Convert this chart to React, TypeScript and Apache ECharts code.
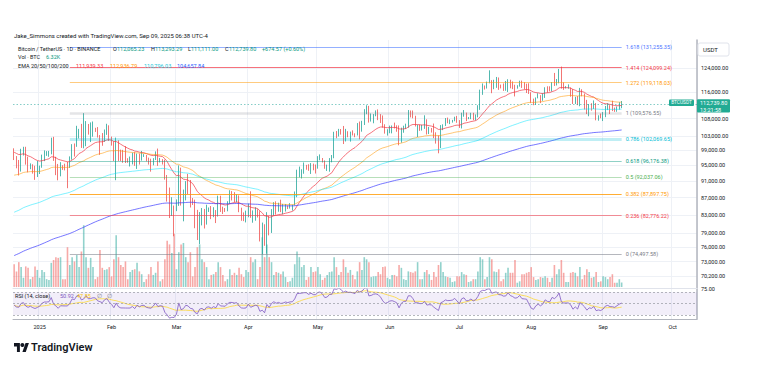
import React, { useEffect, useRef } from "react";
import * as echarts from "echarts";

// ---------- data ----------
const START_UTC = Date.UTC(2024, 11, 21);
const AXIS_DAYS = 295;

const firstOpen = 97805;
const closes = [
  97291, 95186, 94881, 98663, 99430, 95792, 94299, 95300, 93738, 92792, 93576,
  94591, 96984, 98174, 98220, 98364, 102235, 96954, 95060, 92552, 94726, 94599, 94545, 94536, 96560, 100497, 99987, 104077, 104556, 101335, 102260, 106143, 103706, 103960, 104819, 104714, 102682, 102087, 101332, 103733, 104722, 102429,
  100635, 97700, 101406, 97871, 96615, 96593, 96530, 96482, 96500, 97437, 95748, 97885, 96623, 97508, 97580, 96175, 95773, 95539, 96635, 98333, 96125, 96577, 96273, 91552, 88680, 84250, 84708, 84349,
  86064, 94270, 86220, 87281, 90606, 89931, 86801, 86222, 80734, 78595, 82932, 83680, 81067, 83969, 84343, 82580, 84076, 82718, 86855, 84167, 84044, 83832, 86054, 87498, 87391, 86909, 87232, 84424, 82648, 82390, 82550,
  85158, 82516, 83214, 83889, 83538, 78430, 79163, 76322, 82615, 79607, 83424, 85276, 83760, 84592, 83617, 84031, 84948, 84474, 85077, 85179, 87516, 93442, 93691, 93980, 94638, 94630, 93754, 94981, 94284, 94207,
  96492, 96910, 95891, 94315, 94748, 96802, 97032, 103241, 102971, 104696, 104106, 102812, 104169, 103540, 103744, 103489, 103191, 106430, 105606, 106792, 109678, 111673, 107288, 107791, 109035, 109440, 108994, 107802, 105642, 103998, 104638,
  105652, 105882, 105432, 104731, 101575, 104390, 105615, 105793, 110294, 110257, 108686, 105929, 106090, 105472, 105552, 106796, 104601, 104883, 104658, 103297, 102120, 100963, 105333, 106083, 107340, 106947, 107047, 107296, 108356, 107135,
  105681, 108849, 109584, 107984, 108198, 109203, 108262, 108922, 111233, 115987, 117516, 117435, 119086, 119841, 117758, 118630, 119177, 117924, 117840, 117265, 117380, 119954, 118755, 118340, 117614, 117919, 119416, 118062, 117950, 117840, 115764,
  113298, 112547, 114208, 115055, 114130, 114992, 117472, 116674, 116462, 119295, 118686, 120134, 123306, 118295, 117342, 117380, 117405, 116227, 112872, 114271, 112500, 116935, 115438, 113493, 110111, 111763, 111262, 112566, 108377, 108816, 108246,
  109237, 111240, 111705, 110730, 110659, 110187, 111137, 112065.23, 112739.8,
];
const highs = [
  99540, 97448, 96416, 99416, 99960, 99963, 97294, 95525, 95174, 94903, 96150,
  94929, 97839, 98976, 98778, 98836, 102480, 102724, 97258, 95382, 95837, 95050, 95450, 95940, 97371, 100681, 100868, 105865, 104988, 106422, 109588, 107240, 106394, 106850, 107120, 105286, 105500, 103220, 103783, 104800, 106457, 106012,
  102783, 101456, 102500, 101750, 99188, 99120, 100137, 96880, 97323, 98345, 98500, 98119, 98116, 98826, 97972, 97732, 97040, 96753, 96899, 98711, 99475, 96943, 96650, 96503, 92540, 89414, 87078, 85120,
  86558, 95000, 94416, 88912, 91000, 92810, 91283, 86897, 86500, 84123, 83617, 84539, 84336, 85310, 84672, 85000, 84736, 84076, 87453, 87443, 84850, 84539, 86129, 88765, 88543, 88292, 87786, 87515, 84624, 83534, 83943,
  85579, 88500, 83998, 84720, 84266, 83817, 81243, 80867, 83588, 82700, 84300, 85905, 86100, 85785, 86496, 85500, 85470, 85132, 85677, 85320, 88460, 93888, 94696, 94000, 95758, 95127, 95301, 95600, 95461, 95228,
  97437, 97895, 96938, 96305, 95199, 96920, 97732, 104145, 104361, 104984, 104937, 105819, 104976, 104300, 104192, 104550, 103709, 106660, 107108, 107320, 110797, 111980, 111800, 109489, 109313, 110422, 110718, 109300, 108910, 106313, 104886,
  105918, 105970, 106794, 106000, 105969, 105333, 105900, 106488, 110530, 110400, 110392, 108813, 106182, 106208, 106128, 108952, 107771, 105550, 105226, 106524, 104000, 103128, 106074, 106290, 108135, 108272, 107735, 107600, 108531, 108789,
  107540, 109730, 110529, 109767, 108420, 109700, 109700, 109200, 111999, 116868, 118869, 118200, 119488, 123218, 119940, 120063, 120999, 120826, 118499, 118856, 119676, 120247, 120090, 119535, 118451, 118297, 119766, 119800, 119273, 118792, 118922,
  116052, 114036, 114400, 115720, 115127, 115716, 117632, 117950, 117944, 119311, 122335, 120324, 123667, 124474, 119216, 117999, 118575, 117543, 117031, 114615, 114821, 117429, 117000, 115666, 113642, 112371, 112625, 113485, 112655, 108952, 109480,
  109912, 111771, 112625, 112000, 113384, 111300, 111600, 112929, 113293.29,
];
const lows = [
  96400, 94250, 92403, 93404, 97600, 95199, 93217, 94014, 92881, 91317, 92034,
  92788, 94392, 96100, 97514, 97276, 97926, 96181, 92500, 91203, 92206, 93831, 93711, 89256, 94346, 96500, 97335, 99950, 102277, 99651, 99550, 100119, 103339, 101262, 102750, 104106, 102520, 97777, 100233, 101328, 103278, 101560,
  100279, 96150, 91231, 96150, 96155, 95676, 95620, 95688, 94713, 95256, 94876, 94088, 95220, 96252, 97223, 96053, 95205, 93388, 95029, 96415, 94871, 95770, 95227, 91371, 86050, 82256, 82716, 78258,
  83824, 85050, 85117, 81529, 86334, 87836, 84667, 85248, 80000, 77459, 76606, 80620, 79939, 80797, 83639, 82017, 82456, 81134, 82600, 83647, 83175, 83647, 83790, 85518, 86310, 85859, 85837, 83585, 81644, 81565, 81279,
  82432, 82320, 81211, 81659, 82379, 77153, 74508, 76239, 74620, 78456, 78971, 82792, 83034, 83690, 83600, 83111, 83736, 84303, 84418, 83949, 85143, 87076, 91935, 91660, 92855, 93880, 93604, 92800, 93742, 92910,
  94153, 96350, 95753, 94127, 93566, 93377, 95800, 96876, 102316, 102817, 103346, 100719, 101429, 102602, 101383, 103100, 102612, 103105, 102000, 104184, 106100, 109285, 106800, 107104, 106600, 108670, 107516, 106681, 105322, 103621, 103068,
  103735, 103703, 105100, 104160, 100372, 101095, 103871, 104964, 105318, 108331, 108064, 105671, 102664, 104410, 104494, 104980, 103371, 103500, 103929, 102345, 100837, 98200, 99613, 104622, 105820, 106595, 106356, 106800, 107200, 106733,
  105250, 105100, 108530, 107245, 107800, 107800, 107500, 107429, 108347, 110582, 115222, 116900, 117224, 118905, 115736, 117017, 117453, 116812, 117277, 116467, 116515, 116128, 117301, 117031, 114723, 117184, 117840, 117427, 116950, 115800, 115500,
  112722, 112000, 112080, 114116, 112650, 113353, 114259, 115891, 116299, 116300, 118050, 118207, 118920, 117180, 116803, 117253, 117172, 114640, 112380, 112380, 112015, 111684, 114767, 110680, 109329, 108666, 110345, 110862, 107463, 107350, 108076,
  107255, 108393, 110509, 109329, 110207, 109977, 110000, 110621, 111111,
];
// volume, thousands of BTC
const volumesK = [
  32, 22, 35, 28, 13, 29, 27, 11, 14, 29, 24,
  13, 24, 21, 11, 10, 34, 38, 42, 41, 42, 11, 11, 56, 31, 42, 36, 45, 28, 50, 87, 42, 27, 41, 28, 11, 14, 52, 27, 24, 25, 28,
  15, 39, 73, 42, 31, 28, 36, 11, 21, 24, 25, 34, 22, 18, 7, 11, 18, 28, 17, 20, 36, 8, 11, 39, 65, 60, 48, 75,
  25, 49, 60, 62, 42, 35, 49, 15, 28, 56, 60, 39, 35, 28, 11, 17, 18, 21, 35, 28, 17, 8, 11, 25, 17, 20, 17, 27, 18, 14, 24,
  21, 42, 35, 39, 11, 28, 70, 42, 60, 42, 35, 17, 21, 20, 18, 22, 14, 7, 8, 13, 32, 50, 42, 28, 31, 10, 14, 28, 21, 22,
  28, 18, 10, 13, 17, 21, 22, 42, 28, 17, 21, 39, 28, 20, 24, 17, 11, 22, 35, 24, 42, 39, 35, 14, 15, 15, 21, 18, 28, 29, 13,
  11, 17, 17, 15, 31, 27, 11, 10, 22, 21, 20, 22, 35, 11, 11, 21, 24, 18, 10, 21, 14, 31, 35, 21, 15, 14, 13, 7, 8, 15,
  15, 21, 18, 17, 7, 8, 11, 11, 22, 42, 39, 11, 14, 42, 39, 22, 21, 25, 8, 11, 20, 27, 20, 20, 38, 6, 8, 18, 18, 20, 21,
  28, 14, 10, 11, 14, 13, 15, 13, 7, 13, 31, 18, 25, 38, 20, 7, 7, 20, 21, 20, 15, 28, 11, 17, 25, 21, 13, 14, 21, 7, 8,
  15, 14, 11, 14, 18, 6, 6, 11, 6.32,
];

const priceTicks = [124000, 116000, 108000, 103000, 99000, 95000, 91000, 87000, 83000, 79000, 76000, 73000, 70200];
const priceAxisRange = [67932, 133870];

const fibRatios = ["1.618", "1.414", "1.272", "1", "0.786", "0.618", "0.5", "0.382", "0.236", "0"];
const fibPrices = [131255.35, 124099.24, 119118.03, 109576.55, 102069.65, 96176.38, 92037.06, 87897.75, 82776.22, 74497.58];
const fibLineColors = [
  "rgba(41,98,255,0.5)", "rgba(242,54,69,0.7)", "rgba(255,152,0,0.5)", "rgba(120,123,134,0.2)", "rgba(0,188,212,0.25)",
  "rgba(8,153,129,0.45)", "rgba(76,175,80,0.4)", "rgba(255,152,0,0.8)", "rgba(242,54,69,0.55)", "rgba(120,123,134,0.55)",
];
const fibLabelColors = ["#4a74ff", "#f23645", "#ff9800", "#787b86", "#00bcd4", "#089981", "#4caf50", "#ff9800", "#f23645", "#787b86"];
const fibWidths = [1, 1, 1, 2.5, 3, 1, 1, 1.2, 1, 1];
const fibStart = "2025-01-14";
const fibEnd = "2025-09-09";

const emaPeriods = [20, 50, 100, 200];
const emaSeeds = [98600, 92300, 83300, 74000];
const emaColors = ["rgba(242,54,69,0.7)", "rgba(255,152,0,0.55)", "rgba(0,229,255,0.5)", "rgba(61,61,255,0.7)"];
const emaLegendValues = ["111,939.33", "112,936.79", "110,796.03", "104,657.84"];
const emaLegendColors = ["#f23645", "#ff9800", "#26c6da", "#2962ff"];

const rsiSeedGain = 1150;
const rsiSeedLoss = 1250;
const rsiLevels = [70, 50, 30];
const lastPrice = 112739.8;

// ---------- helpers ----------
const FONT = "Roboto";
const DAY = 86400000;
const categories = Array.from({ length: AXIS_DAYS }, (_, i) => new Date(START_UTC + i * DAY).toISOString().slice(0, 10));
const MONTHS = ["Jan", "Feb", "Mar", "Apr", "May", "Jun", "Jul", "Aug", "Sep", "Oct", "Nov", "Dec"];
const isMonthStart = (_i: number, v: string) => v.slice(8, 10) === "01";
const monthLabel = (v: string) => (v.slice(5, 7) === "01" ? v.slice(0, 4) : MONTHS[parseInt(v.slice(5, 7), 10) - 1]);
const fmt2 = (v: number) => v.toLocaleString("en-US", { minimumFractionDigits: 2, maximumFractionDigits: 2 });

const opens = closes.map((_, i) => (i === 0 ? firstOpen : closes[i - 1]));
const candleData = closes.map((c, i) => {
  const o = opens[i];
  const h = Math.max(highs[i], o, c);
  const l = Math.min(lows[i], o, c);
  return [Math.log(o), Math.log(c), Math.log(l), Math.log(h)];
});

function ema(period: number, seed: number) {
  const a = 2 / (period + 1);
  let prev = seed;
  return closes.map((c) => (prev = a * c + (1 - a) * prev)).map((v) => Math.log(v));
}

function rsi() {
  let g = rsiSeedGain;
  let l = rsiSeedLoss;
  return closes.map((c, i) => {
    const ch = c - opens[i];
    g = (g * 13 + Math.max(ch, 0)) / 14;
    l = (l * 13 + Math.max(-ch, 0)) / 14;
    return 100 - 100 / (1 + g / l);
  });
}
const rsiVals = rsi();
const rsiMa = rsiVals.map((_, i) => {
  const s = rsiVals.slice(Math.max(0, i - 13), i + 1);
  return s.reduce((a, b) => a + b, 0) / s.length;
});

function txt(x: number, y: number, text: string, fill: string, fontSize = 5.5, extra: any = {}) {
  return {
    type: "text",
    x,
    y,
    silent: true,
    z: 100,
    style: { text, fill, fontSize, fontFamily: FONT, verticalAlign: "middle", align: "left", ...extra },
  };
}

echarts.graphic.registerShape(
  "tvlogo",
  echarts.graphic.extendPath("M14 22H7V11H0V4h14v18zM28 22h-8l7.5-18h8L28 22z", {}) as any
);

export default function App() {
  const ref = useRef<HTMLDivElement>(null);
  useEffect(() => {
    if (!ref.current) return;
    const chart = echarts.init(ref.current, undefined, { renderer: "svg" });
    const tickLns = priceTicks.map((t) => Math.log(t));
    const teal = "#26a69a";
    const red = "#ef5350";

    const fibData = fibPrices.map((p, i) => {
      const ls = { color: fibLineColors[i], width: fibWidths[i], type: "solid" };
      const lb = {
        show: true,
        position: "end",
        distance: 4,
        formatter: `${fibRatios[i]} (${fmt2(p)})`,
        color: fibLabelColors[i],
        fontSize: 5.5,
        fontFamily: FONT,
      };
      return [
        { coord: [fibStart, Math.log(p)], lineStyle: ls, label: lb },
        { coord: [fibEnd, Math.log(p)], lineStyle: ls, label: lb },
      ];
    });

    const option: any = {
      animation: false,
      backgroundColor: "#ffffff",
      grid: [
        { left: 13, top: 40, width: 684, height: 248 },
        { left: 13, top: 200, width: 684, height: 87 },
        { left: 13, top: 289, width: 684, height: 30 },
      ],
      xAxis: [0, 1, 2].map((i) => ({
        type: "category",
        gridIndex: i,
        data: categories,
        boundaryGap: true,
        axisLine: { show: i !== 1, lineStyle: { color: i === 2 ? "#b2b5be" : "#e0e3eb", width: 1 } },
        axisTick: { show: false },
        axisLabel: {
          show: i === 2,
          interval: isMonthStart,
          formatter: monthLabel,
          fontSize: 5.5,
          color: "#131722",
          margin: 5,
          fontFamily: FONT,
        },
        splitLine: { show: i !== 1, interval: isMonthStart, lineStyle: { color: "#eef1f6", width: 1 } },
      })),
      yAxis: [
        {
          type: "value",
          gridIndex: 0,
          position: "right",
          min: Math.log(priceAxisRange[0]),
          max: Math.log(priceAxisRange[1]),
          axisLine: { show: true, lineStyle: { color: "#b2b5be", width: 1.5 } },
          axisTick: { show: false, customValues: tickLns },
          axisLabel: {
            customValues: tickLns,
            formatter: (v: number) => fmt2(Math.round(Math.exp(v) / 100) * 100),
            fontSize: 5.5,
            color: "#131722",
            margin: 4,
            fontFamily: FONT,
          },
          splitLine: { show: true, lineStyle: { color: "#eef1f6", width: 1 } },
        },
        { type: "value", gridIndex: 1, min: 0, max: 122.5, show: false },
        {
          type: "value",
          gridIndex: 2,
          position: "right",
          min: 23,
          max: 75.5,
          axisLine: { show: true, lineStyle: { color: "#b2b5be", width: 1.5 } },
          axisTick: { show: false, customValues: [75] },
          axisLabel: {
            customValues: [75],
            formatter: (v: number) => fmt2(v),
            fontSize: 5.5,
            color: "#131722",
            margin: 4,
            fontFamily: FONT,
          },
          splitLine: { show: false },
        },
      ],
      series: [
        {
          type: "bar",
          xAxisIndex: 1,
          yAxisIndex: 1,
          barWidth: 1.6,
          z: 1,
          data: volumesK.map((v, i) => ({
            value: v,
            itemStyle: { color: closes[i] >= opens[i] ? "rgba(38,166,154,0.5)" : "rgba(239,83,80,0.5)" },
          })),
        },
        {
          type: "candlestick",
          xAxisIndex: 0,
          yAxisIndex: 0,
          barWidth: 1.2,
          z: 3,
          data: candleData,
          itemStyle: { color: teal, color0: red, borderColor: teal, borderColor0: red, borderWidth: 0.8 },
          markLine: {
            silent: true,
            symbol: ["none", "none"],
            animation: false,
            data: [
              ...fibData,
              {
                yAxis: Math.log(lastPrice),
                lineStyle: { color: "rgba(38,166,154,0.7)", width: 0.8, type: [1.5, 2] },
                label: { show: false },
              },
            ],
          },
        },
        ...emaPeriods.map((p, i) => ({
          type: "line",
          xAxisIndex: 0,
          yAxisIndex: 0,
          data: ema(p, emaSeeds[i]),
          showSymbol: false,
          symbol: "none",
          z: 4,
          lineStyle: { color: emaColors[i], width: 1 },
        })),
        {
          type: "line",
          xAxisIndex: 2,
          yAxisIndex: 2,
          data: rsiMa,
          showSymbol: false,
          symbol: "none",
          z: 3,
          lineStyle: { color: "#fdd835", width: 0.8 },
        },
        {
          type: "line",
          xAxisIndex: 2,
          yAxisIndex: 2,
          data: rsiVals,
          showSymbol: false,
          symbol: "none",
          z: 4,
          lineStyle: { color: "#7e57c2", width: 0.8 },
          markArea: {
            silent: true,
            itemStyle: { color: "rgba(126,87,194,0.1)" },
            data: [[{ yAxis: 70 }, { yAxis: 30 }]],
          },
          markLine: {
            silent: true,
            symbol: ["none", "none"],
            label: { show: false },
            lineStyle: { color: "#9598a1", width: 0.7, type: [2, 2] },
            data: rsiLevels.map((v) => ({ yAxis: v })),
          },
        },
      ],
    };
    chart.setOption(option);

    const py = chart.convertToPixel({ yAxisIndex: 0 }, Math.log(lastPrice)) as unknown as number;
    const tagColor = "#22ab94";
    const graphic: any[] = [
      txt(14, 35, "Jake_Simmons created with TradingView.com, Sep 09, 2025 06:38 UTC-4", "#131722", 6),
      txt(18, 48.5, "Bitcoin / TetherUS · 1D · BINANCE", "#131722"),
      txt(113, 48.5, "O", "#131722"),
      txt(117, 48.5, "112,065.23", "#089981"),
      txt(151, 48.5, "H", "#131722"),
      txt(155, 48.5, "113,293.29", "#089981"),
      txt(188, 48.5, "L", "#131722"),
      txt(191, 48.5, "111,111.00", "#089981"),
      txt(225, 48.5, "C", "#131722"),
      txt(229, 48.5, "112,739.80", "#089981"),
      txt(262, 48.5, "+674.57 (+0.60%)", "#089981"),
      txt(18, 57, "Vol · BTC", "#131722"),
      txt(46, 57, "6.32K", "#089981"),
      txt(18, 65.5, "EMA 20/50/100/200", "#131722"),
      ...emaLegendValues.map((v, i) => txt([76, 110, 144, 177][i], 65.5, v, emaLegendColors[i])),
      txt(15, 295.5, "RSI (14, close)", "#131722"),
      txt(60, 295.5, "50.92", "#7e57c2"),
      txt(77, 295.5, "47.85", "#f9c80e"),
      txt(97, 295.5, "∅", "#787b86"),
      txt(107, 295.5, "∅", "#787b86"),
      {
        type: "rect",
        z: 100,
        shape: { x: 698, y: 43, width: 31, height: 13, r: 2 },
        style: { fill: "#ffffff", stroke: "#e0e3eb", lineWidth: 1 },
      },
      txt(703, 49.5, "USDT", "#131722", 6),
      { type: "rect", z: 100, shape: { x: 669, y: py - 3.2, width: 25, height: 6.4, r: 1 }, style: { fill: tagColor } },
      txt(681.5, py + 0.1, "BTCUSDT", "#ffffff", 4.8, { align: "center" }),
      { type: "rect", z: 100, shape: { x: 697, y: py - 3.6, width: 33, height: 13.4, r: 1 }, style: { fill: tagColor } },
      txt(700, py, "112,739.80", "#ffffff", 5.5),
      txt(700, py + 6.8, "13:21:58", "#ffffff", 5.5),
      { type: "tvlogo", x: 14, y: 341, scaleX: 0.42, scaleY: 0.5, style: { fill: "#131722" }, z: 100 },
      { type: "circle", shape: { cx: 14 + 20 * 0.42, cy: 341 + 8 * 0.5, r: 2 }, style: { fill: "#131722" }, z: 100 },
      txt(31, 347, "TradingView", "#131722", 11, { fontWeight: 600 }),
    ];
    chart.setOption({ graphic });

    return () => chart.dispose();
  }, []);
  return <div ref={ref} style={{ position: "absolute", left: 0, top: 0, width: 770, height: 369 }} />;
}
